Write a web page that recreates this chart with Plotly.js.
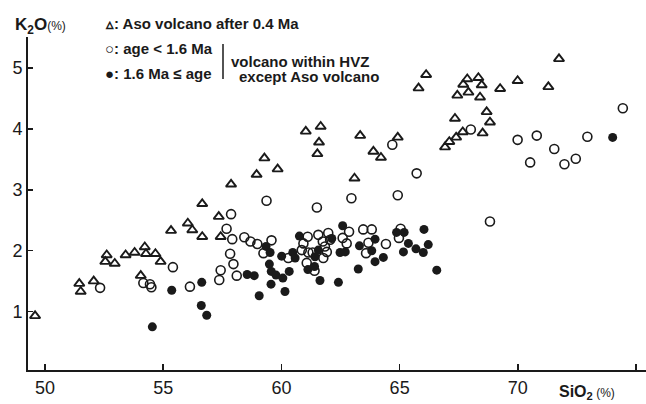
<!DOCTYPE html>
<html>
<head>
<meta charset="utf-8">
<script src="https://cdn.plot.ly/plotly-3.0.1.min.js"></script>
<style>html,body{margin:0;padding:0;background:#fff;}#chart{width:646px;height:404px;}</style>
</head>
<body>
<div id="chart"></div>
<script>
// Aso volcano after 0.4 Ma (triangles)
const asoSiO2 = [49.58,51.45,51.51,52.06,52.55,52.61,52.95,53.41,53.79,54.05,54.22,54.27,54.67,54.89,55.33,56.04,56.23,56.65,56.65,57.35,57.43,57.87,58.95,59.28,59.84,61.03,61.66,61.59,61.52,63.09,63.33,63.89,64.21,64.92,65.80,66.12,66.92,67.10,67.39,67.67,67.34,67.44,67.69,67.86,67.91,68.33,68.40,68.47,68.51,68.68,68.82,69.25,69.99,71.29,71.74,72.88];
const asoK2O  = [0.93,1.46,1.33,1.50,1.82,1.93,1.79,1.93,1.97,1.59,2.06,1.95,1.95,1.82,2.33,2.45,2.34,2.77,2.23,2.56,2.23,3.09,3.25,3.52,3.34,3.96,4.04,3.78,3.59,3.19,3.89,3.63,3.53,3.86,4.67,4.89,3.70,3.79,3.86,3.95,4.17,4.55,4.73,4.82,4.60,4.84,4.52,4.72,3.93,4.28,4.11,4.66,4.79,4.69,5.15,5.58];

// HVZ volcanoes, age < 1.6 Ma (open circles)
const youngSiO2 = [52.33,54.16,54.44,54.50,55.41,56.13,57.37,57.43,57.68,57.83,57.87,57.92,57.97,58.11,58.43,58.69,58.98,59.24,59.37,59.58,60.29,60.86,60.93,61.07,61.11,61.14,61.32,61.40,61.50,61.56,61.75,61.77,61.84,61.92,61.98,62.06,62.59,62.76,62.86,62.96,63.46,63.58,63.68,63.82,64.42,64.69,64.92,64.97,65.04,65.72,68.01,68.82,69.99,70.52,70.80,71.54,71.97,72.45,72.94,74.44];
const youngK2O  = [1.39,1.47,1.45,1.40,1.73,1.41,1.52,1.68,2.36,1.95,2.60,2.19,1.78,1.59,2.22,2.15,2.11,1.96,2.82,2.17,1.88,2.01,2.12,1.80,2.23,1.97,1.97,1.67,2.71,2.26,2.15,1.88,2.07,1.98,2.29,2.18,2.21,2.12,2.31,2.86,2.35,1.96,2.13,2.35,2.11,3.74,2.91,2.21,2.36,3.27,3.99,2.48,3.82,3.45,3.89,3.67,3.42,3.51,3.87,4.34];

// HVZ volcanoes, 1.6 Ma <= age (filled circles)
const oldSiO2 = [54.54,55.36,56.63,56.61,56.84,58.55,58.85,59.06,59.35,59.52,59.49,59.57,59.77,59.56,60.06,60.15,60.33,60.01,60.48,60.58,60.76,61.12,61.40,61.42,61.56,61.63,62.13,62.41,62.59,62.48,62.70,63.25,63.30,63.82,63.96,63.96,64.31,64.87,65.19,65.16,65.37,65.69,66.00,66.03,66.21,66.57,74.01];
const oldK2O  = [0.75,1.35,1.48,1.10,0.94,1.61,1.59,1.26,2.07,1.97,1.78,1.66,1.60,1.45,1.55,1.33,1.66,1.91,1.97,1.88,2.24,1.69,1.74,1.90,2.01,1.51,2.20,1.48,2.41,1.97,1.98,1.70,2.08,2.00,2.19,1.82,1.89,2.30,2.30,1.98,2.12,2.03,1.97,2.35,2.10,1.68,3.86];

const xTicks = [50,55,60,65,70,75];
const yTicks = [1,2,3,4,5];

const W = 646, H = 404, ML = 28, MR = 0, MT = 37, MB = 34;
const pw = W - ML - MR, ph = H - MT - MB;
const px = x => (x - ML) / pw;
const py = y => (H - MB - y) / ph;

const ink = '#1a1a1a';
const FONT = 'Liberation Sans, Arial, sans-serif';

const traces = [
  {x: asoSiO2, y: asoK2O, type: 'scatter', mode: 'markers', cliponaxis: false,
   marker: {symbol: 'triangle-up-open', size: 9, color: ink, line: {width: 1.9, color: ink}}},
  {x: youngSiO2, y: youngK2O, type: 'scatter', mode: 'markers', cliponaxis: false,
   marker: {symbol: 'circle-open', size: 9, color: ink, line: {width: 1.6, color: ink}}},
  {x: oldSiO2, y: oldK2O, type: 'scatter', mode: 'markers', cliponaxis: false,
   marker: {symbol: 'circle', size: 9, color: ink, line: {width: 0}}}
];

function ann(text, x, y, size, xanchor) {
  return {text: text, xref: 'paper', yref: 'paper', x: px(x), y: py(y), xanchor: xanchor || 'left', yanchor: 'middle',
          showarrow: false, font: {family: FONT, size: size, color: ink}};
}

const layout = {
  width: W, height: H,
  margin: {l: ML, r: MR, t: MT, b: MB, pad: 0},
  paper_bgcolor: '#fff', plot_bgcolor: '#fff',
  showlegend: false,
  xaxis: {range: [49.281, 75.42], tickvals: xTicks, ticktext: xTicks.map(String),
          ticks: 'inside', ticklen: 6, tickwidth: 1.5, tickcolor: ink,
          showline: true, linewidth: 2, linecolor: ink, showgrid: false, zeroline: false,
          tickfont: {family: FONT, size: 18, color: ink}},
  yaxis: {range: [0.041, 5.509], tickvals: yTicks, ticktext: yTicks.map(String),
          ticks: 'inside', ticklen: 5, tickwidth: 1.5, tickcolor: ink,
          showline: true, linewidth: 2, linecolor: ink, showgrid: false, zeroline: false,
          tickfont: {family: FONT, size: 18, color: ink}},
  shapes: [
    {type: 'line', xref: 'paper', yref: 'paper', x0: px(223), x1: px(223), y0: py(44), y1: py(79), line: {color: ink, width: 1.5}}
  ],
  annotations: [
    ann('<b>K<sub>2</sub>O</b><span style="font-size:12px">(%)</span>', 13, 26, 17),
    ann('<b>▵: Aso volcano after 0.4 Ma</b>', 103, 23, 15),
    ann('<b>○: age &lt; 1.6 Ma</b>', 103, 49, 15),
    ann('<b>●: 1.6 Ma ≤ age</b>', 103, 73, 15),
    ann('<b>volcano within HVZ</b>', 229, 62, 15),
    ann('<b>except Aso volcano</b>', 237, 77, 15),
    ann('<b>SiO<sub>2</sub></b><span style="font-size:12px"> (%)</span>', 557, 392, 16)
  ]
};

Plotly.newPlot('chart', traces, layout, {displayModeBar: false, staticPlot: true});
</script>
</body>
</html>
